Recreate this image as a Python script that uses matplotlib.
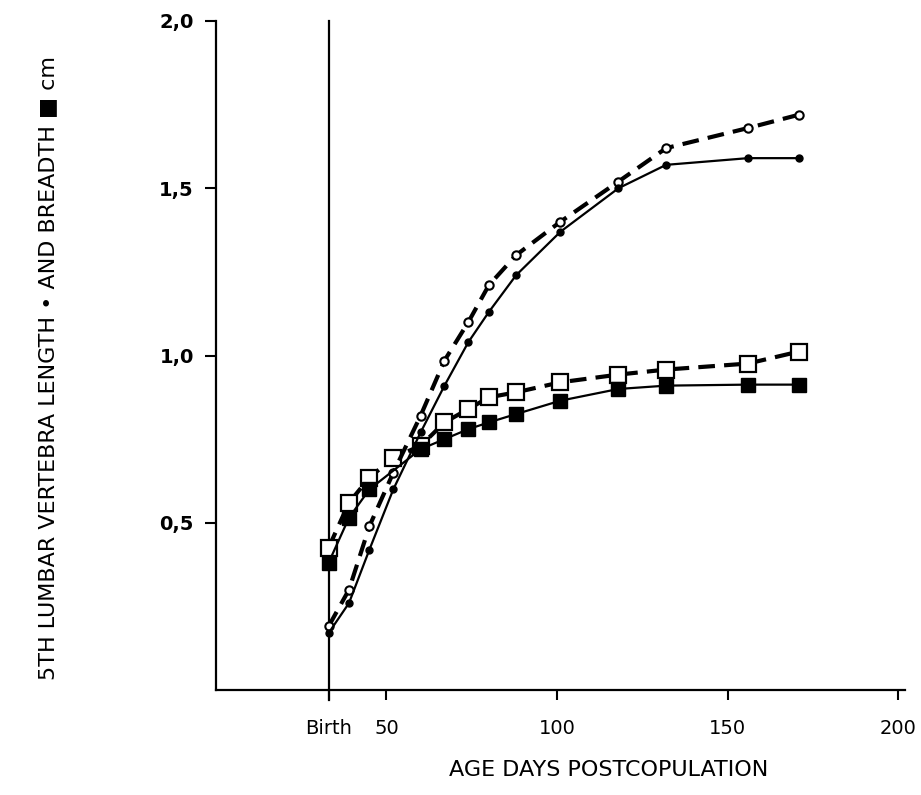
import matplotlib
matplotlib.use("Agg")
import matplotlib.pyplot as plt

# ages (days postcopulation)
birth = 33
ages = [33, 39, 45, 52, 60, 67, 74, 80, 88, 101, 118, 132, 156, 171]
breadth_ages = [33, 39, 45, 60, 67, 74, 80, 88, 101, 118, 132, 156, 171]

# 5th lumbar vertebra length (cm)
length_solid = [0.17, 0.26, 0.42, 0.60, 0.77, 0.91, 1.04, 1.13, 1.24, 1.37, 1.50, 1.57, 1.59, 1.59]
length_dashed = [0.19, 0.30, 0.49, 0.65, 0.82, 0.985, 1.10, 1.21, 1.30, 1.40, 1.52, 1.62, 1.68, 1.72]

# 5th lumbar vertebra breadth (cm)
breadth_solid = [0.38, 0.515, 0.60, 0.72, 0.75, 0.78, 0.80, 0.825, 0.865, 0.90, 0.91, 0.913, 0.913]
breadth_dashed = [0.425, 0.56, 0.635, 0.695, 0.73, 0.80, 0.84, 0.875, 0.89, 0.92, 0.943, 0.958, 0.976, 1.012]

xticks = [birth, 50, 100, 150, 200]
xtick_labels = ["Birth", "50", "100", "150", "200"]
yticks = [0.5, 1.0, 1.5, 2.0]
ytick_labels = ["0,5", "1,0", "1,5", "2,0"]

plt.rcParams['font.family'] = ['DejaVu Sans']

fig = plt.figure(figsize=(9.21, 7.95), dpi=100)
ax = fig.add_axes([0.2345, 0.132, 0.748, 0.8416])

# birth line
ax.plot([birth, birth], [-0.03, 2.0], color='black', lw=1.6, clip_on=False)

# breadth
ax.plot(ages, breadth_dashed, color='black', lw=3, ls=(0, (4, 2.2)),
        marker='s', ms=11, mfc='white', mec='black', mew=1.6, zorder=3)
ax.plot(breadth_ages, breadth_solid, color='black', lw=1.6,
        marker='s', ms=10, mfc='black', mec='black', zorder=4)

# length
ax.plot(ages, length_dashed, color='black', lw=3, ls=(0, (4, 2.2)),
        marker='o', ms=6, mfc='white', mec='black', mew=1.5, zorder=3)
ax.plot(ages, length_solid, color='black', lw=1.6,
        marker='o', ms=5, mfc='black', mec='black', zorder=4)

ax.set_xlim(0, 202)
ax.set_ylim(0, 2.0)
ax.set_xticks(xticks)
ax.set_xticklabels(xtick_labels, fontsize=14)
ax.set_yticks(yticks)
ax.set_yticklabels(ytick_labels, fontsize=14, fontweight='bold')
ax.tick_params(axis='x', direction='out', length=7, width=1.5, pad=14)
ax.tick_params(axis='y', direction='out', length=8, width=1.5, pad=8)

ax.spines['top'].set_visible(False)
ax.spines['right'].set_visible(False)
ax.spines['left'].set_linewidth(1.6)
ax.spines['bottom'].set_linewidth(1.6)

ax.set_xlabel("AGE DAYS POSTCOPULATION", fontsize=16, labelpad=20)
ax.xaxis.set_label_coords(0.57, -0.105)
fig.text(0.052, 0.537, "5TH LUMBAR VERTEBRA LENGTH \u2022 AND BREADTH \u25a0 cm",
         rotation=90, fontsize=16, ha='center', va='center')

fig.savefig("out.png", dpi=100, facecolor='white')
